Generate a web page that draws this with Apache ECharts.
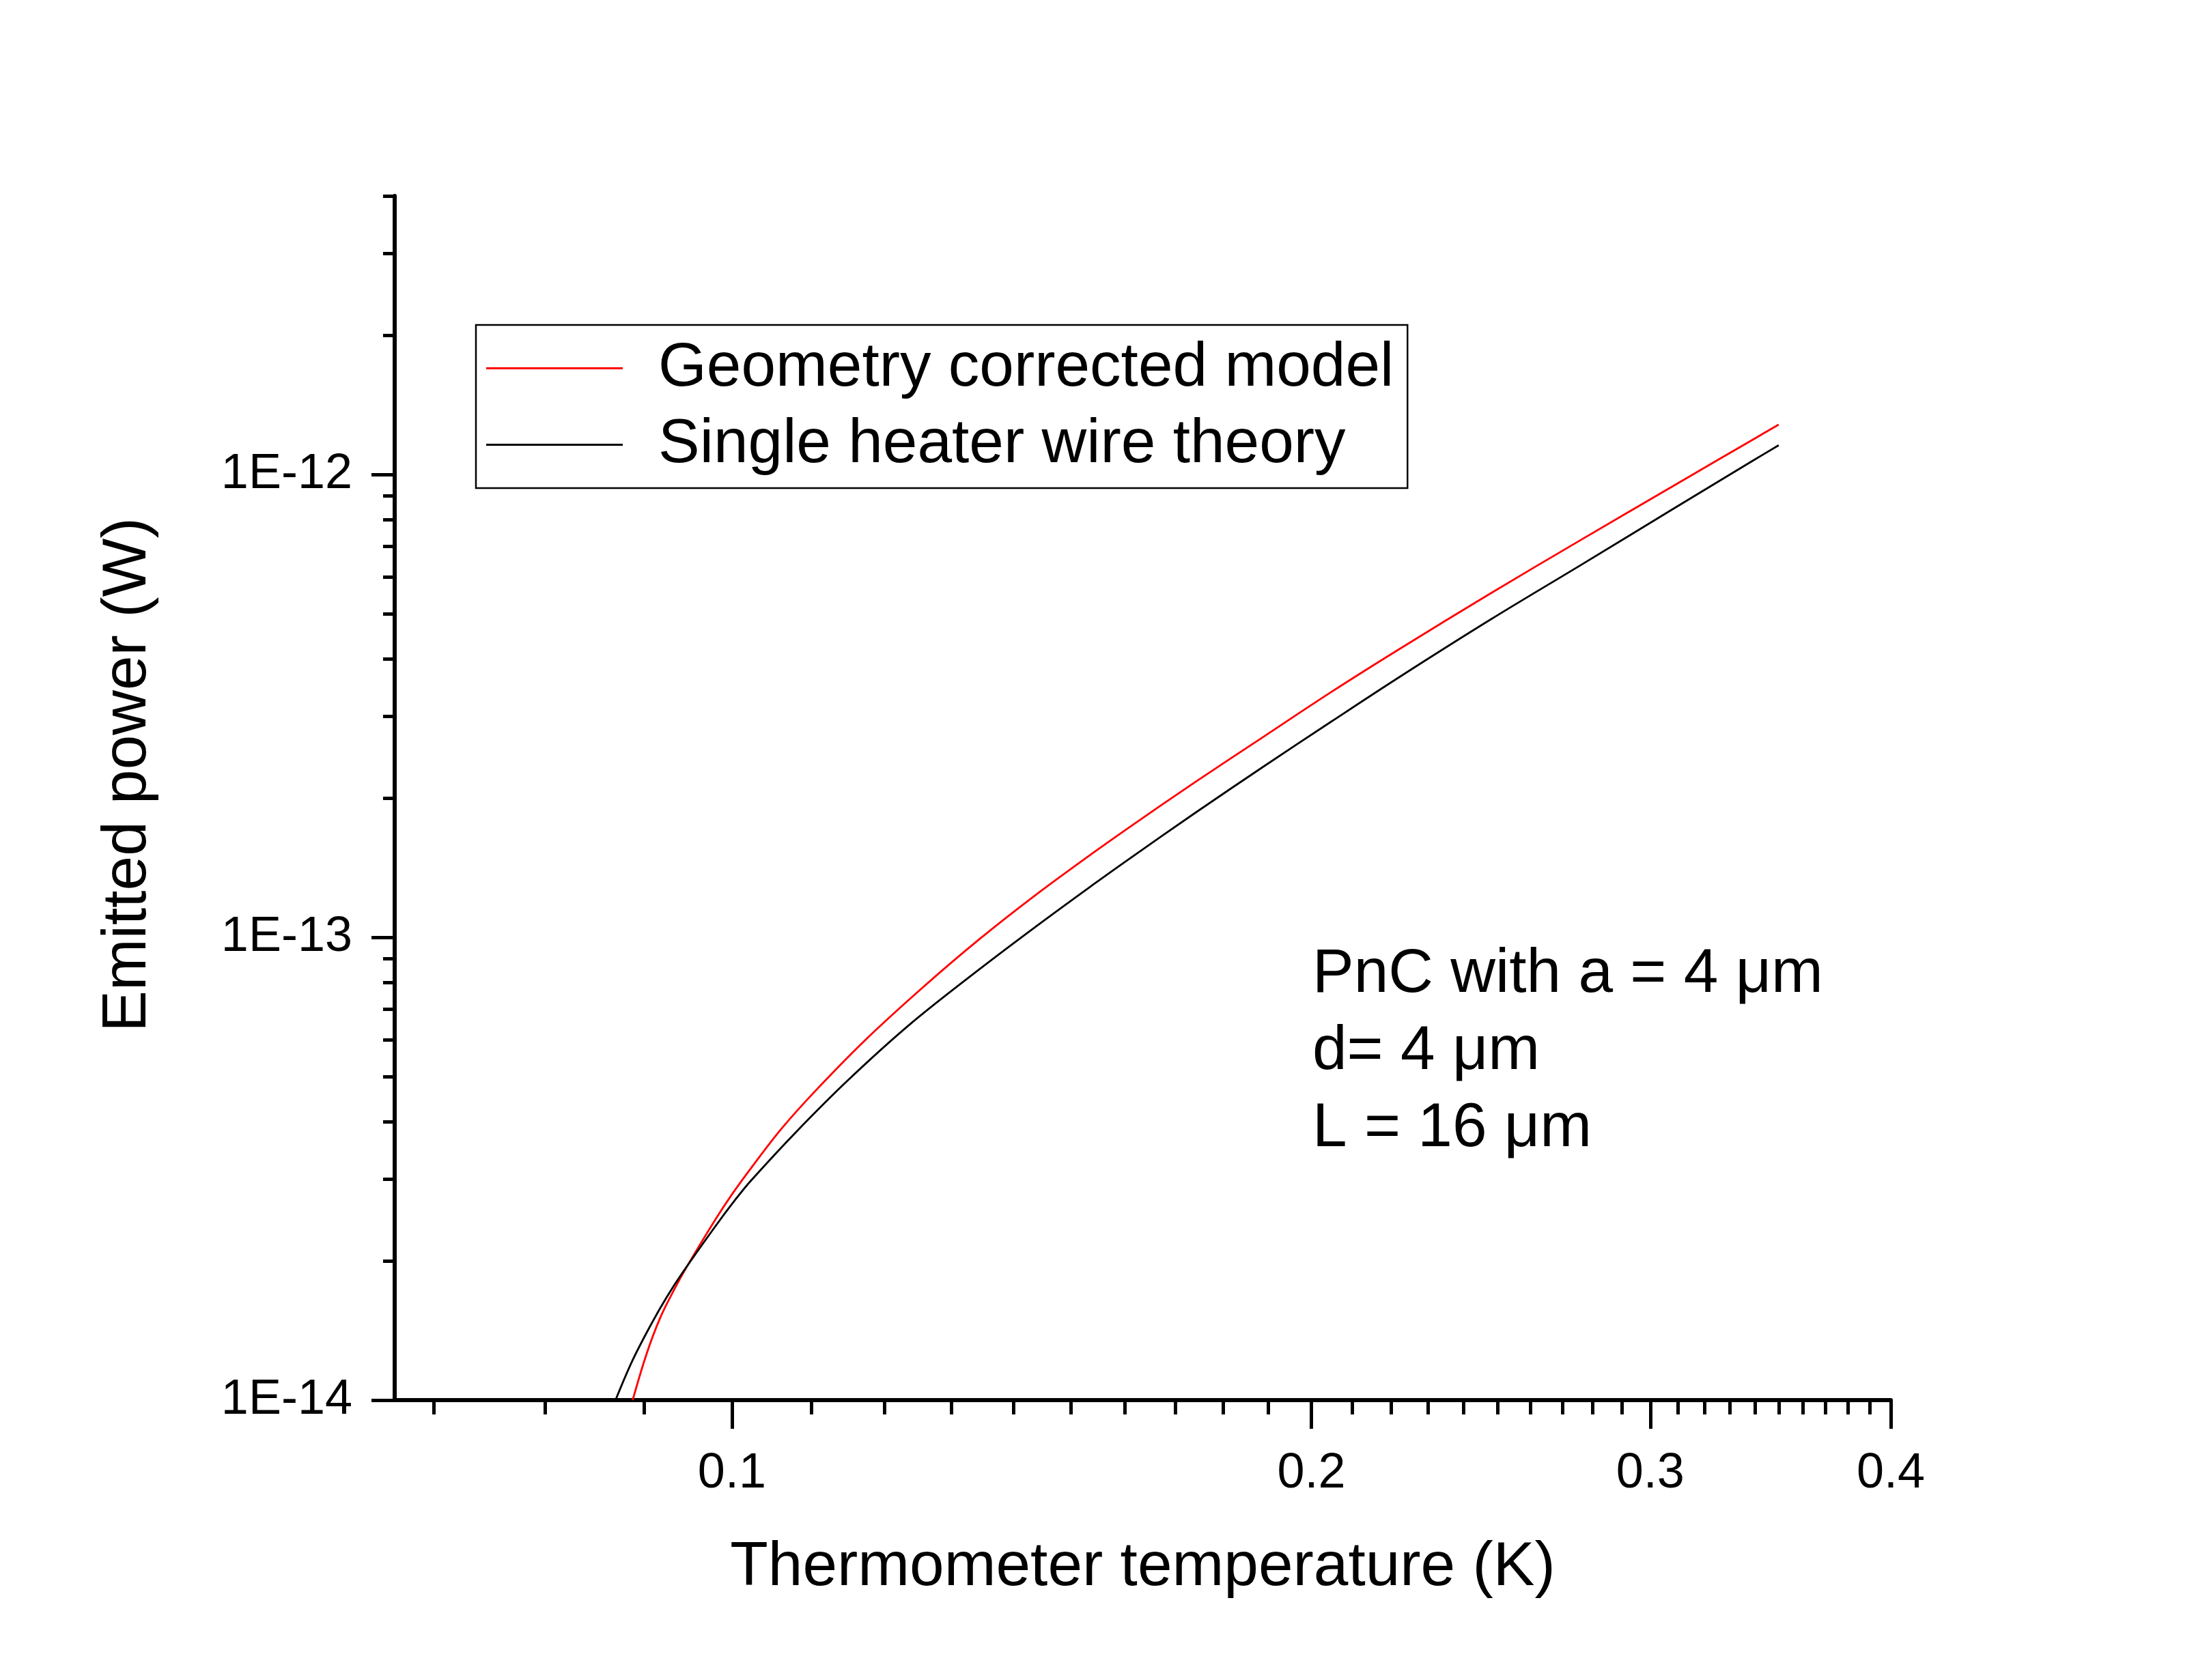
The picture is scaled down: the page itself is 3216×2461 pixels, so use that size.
<!DOCTYPE html>
<html>
<head>
<meta charset="utf-8">
<title>Emitted power vs thermometer temperature</title>
<script src="https://cdn.jsdelivr.net/npm/echarts@6/dist/echarts.min.js"></script>
<style>
  html, body { margin: 0; padding: 0; background: #ffffff; }
  #containerMain { width: 3216px; height: 2461px; }
</style>
</head>
<body>
<div id="containerMain"></div>
<script>
// values: temperature (K) and emitted power (W)
var tempGeom = [0.0888, 0.0903, 0.0918, 0.0933, 0.0948, 0.0980, 0.1001, 0.1023, 0.1060, 0.1104, 0.1172, 0.1255, 0.1343, 0.1438, 0.1539, 0.1603, 0.1740, 0.1888, 0.2049, 0.2223, 0.2479, 0.2764, 0.3083, 0.3400, 0.3498]
var powerGeom = [1.00e-14, 1.26e-14, 1.51e-14, 1.73e-14, 1.95e-14, 2.45e-14, 2.80e-14, 3.17e-14, 3.84e-14, 4.64e-14, 5.98e-14, 7.76e-14, 9.87e-14, 1.234e-13, 1.518e-13, 1.712e-13, 2.163e-13, 2.710e-13, 3.393e-13, 4.201e-13, 5.541e-13, 7.242e-13, 9.444e-13, 1.197e-12, 1.282e-12]

var tempSingle = [0.0870, 0.0888, 0.0908, 0.0925, 0.0943, 0.0980, 0.1004, 0.1023, 0.1080, 0.1150, 0.1238, 0.1343, 0.1438, 0.1539, 0.1603, 0.1740, 0.1888, 0.2049, 0.2223, 0.2479, 0.2764, 0.3083, 0.3400, 0.3498]
var powerSingle = [1.00e-14, 1.22e-14, 1.46e-14, 1.67e-14, 1.89e-14, 2.37e-14, 2.71e-14, 2.98e-14, 3.80e-14, 4.93e-14, 6.50e-14, 8.50e-14, 1.054e-13, 1.296e-13, 1.463e-13, 1.856e-13, 2.336e-13, 2.928e-13, 3.655e-13, 4.865e-13, 6.393e-13, 8.428e-13, 1.078e-12, 1.157e-12]

var seriesNames = ['Geometry corrected model', 'Single heater wire theory']

// axis ticks and labels
var xMajor = [0.1, 0.2, 0.3, 0.4]
var xLabels = ['0.1', '0.2', '0.3', '0.4']
var xMinor = [0.07, 0.08, 0.09, 0.11, 0.12, 0.13, 0.14, 0.15, 0.16, 0.17, 0.18, 0.19, 0.21, 0.22, 0.23, 0.24, 0.25, 0.26, 0.27, 0.28, 0.29, 0.31, 0.32, 0.33, 0.34, 0.35, 0.36, 0.37, 0.38, 0.39]
var yMajor = [1e-14, 1e-13, 1e-12]
var yLabels = ['1E-14', '1E-13', '1E-12']
var yMinor = [2e-14, 3e-14, 4e-14, 5e-14, 6e-14, 7e-14, 8e-14, 9e-14, 2e-13, 3e-13, 4e-13, 5e-13, 6e-13, 7e-13, 8e-13, 9e-13, 2e-12, 3e-12, 4e-12]

var noteLines = ['PnC with a = 4 μm', 'd= 4 μm', 'L = 16 μm']

var FONT = "'Liberation Sans', Arial, sans-serif"

function pairs(xs, ys) {
  var out = []
  for (var i = 0; i < xs.length; i++) {
    out.push([xs[i], ys[i]])
  }
  return out
}

// find the label of a tick value (float safe)
function labelOf(v, ticks, labels) {
  for (var i = 0; i < ticks.length; i++) {
    if (Math.abs(v / ticks[i] - 1) < 1e-6) return labels[i]
  }
  return ''
}

var charts = echarts.init(document.getElementById('containerMain'))
var option = {
  animation: false,
  backgroundColor: '#ffffff',
  grid: {
    left: 578,
    right: 447,
    top: 287,
    bottom: 410,
    containLabel: false
  },
  legend: {
    orient: 'vertical',
    left: 697,
    top: 476,
    padding: [18, 20, 18, 15],
    itemGap: 21,
    itemWidth: 200,
    itemHeight: 3,
    icon: 'rect',
    borderColor: '#000000',
    borderWidth: 2.5,
    selectedMode: false,
    textStyle: {
      fontFamily: FONT,
      fontSize: 91,
      lineHeight: 91,
      color: '#000000',
      padding: [0, 0, 0, 47]
    },
    data: seriesNames
  },
  xAxis: [
    {
      type: 'log',
      min: 0.0668,
      max: 0.4,
      position: 'bottom',
      name: 'Thermometer temperature (K)',
      nameLocation: 'middle',
      nameGap: 200,
      nameMoveOverlap: false,
      nameTextStyle: { fontFamily: FONT, fontSize: 91, color: '#000000' },
      axisLine: { show: true, onZero: false, lineStyle: { color: '#000000', width: 6 } },
      axisTick: { show: true, customValues: xMajor, length: 42, lineStyle: { color: '#000000', width: 5 } },
      axisLabel: {
        customValues: xMajor,
        fontFamily: FONT,
        fontSize: 72,
        color: '#000000',
        margin: 72,
        formatter: function (v) { return labelOf(v, xMajor, xLabels) }
      },
      splitLine: { show: false },
      minorTick: { show: false }
    },
    {
      type: 'log',
      min: 0.0668,
      max: 0.4,
      position: 'bottom',
      axisLine: { show: false },
      axisTick: { show: true, customValues: xMinor, length: 21, lineStyle: { color: '#000000', width: 5 } },
      axisLabel: { show: false },
      splitLine: { show: false }
    }
  ],
  yAxis: [
    {
      type: 'log',
      min: 1e-14,
      max: 4e-12,
      position: 'left',
      name: 'Emitted power (W)',
      nameLocation: 'middle',
      nameGap: 345,
      nameMoveOverlap: false,
      nameTextStyle: { fontFamily: FONT, fontSize: 91, color: '#000000', padding: [0, 0, 0, 68] },
      axisLine: { show: true, onZero: false, lineStyle: { color: '#000000', width: 6 } },
      axisTick: { show: true, customValues: yMajor, length: 34, lineStyle: { color: '#000000', width: 5 } },
      axisLabel: {
        customValues: yMajor,
        fontFamily: FONT,
        fontSize: 72,
        color: '#000000',
        margin: 62,
        formatter: function (v) { return labelOf(v, yMajor, yLabels) }
      },
      splitLine: { show: false },
      minorTick: { show: false }
    },
    {
      type: 'log',
      min: 1e-14,
      max: 4e-12,
      position: 'left',
      axisLine: { show: false },
      axisTick: { show: true, customValues: yMinor, length: 17, lineStyle: { color: '#000000', width: 5 } },
      axisLabel: { show: false },
      splitLine: { show: false }
    }
  ],
  graphic: [
    {
      type: 'text',
      left: 1922,
      top: 1371,
      style: {
        text: noteLines.join('\n'),
        font: '91px ' + FONT,
        lineHeight: 113,
        fill: '#000000'
      }
    }
  ],
  series: [
    {
      name: seriesNames[0],
      type: 'line',
      xAxisIndex: 0,
      yAxisIndex: 0,
      data: pairs(tempGeom, powerGeom),
      symbol: 'none',
      showSymbol: false,
      smooth: 0.35,
      clip: true,
      lineStyle: { color: '#ff0000', width: 2.8 },
      itemStyle: { color: '#ff0000' }
    },
    {
      name: seriesNames[1],
      type: 'line',
      xAxisIndex: 0,
      yAxisIndex: 0,
      data: pairs(tempSingle, powerSingle),
      symbol: 'none',
      showSymbol: false,
      smooth: 0.35,
      clip: true,
      lineStyle: { color: '#000000', width: 2.8 },
      itemStyle: { color: '#000000' }
    }
  ]
}
// 绘制图表
charts.setOption(option)
</script>
</body>
</html>
